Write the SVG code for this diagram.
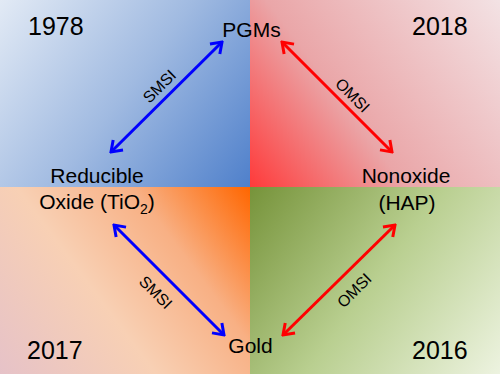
<svg xmlns="http://www.w3.org/2000/svg" width="500" height="374" viewBox="0 0 500 374">
<style>
text{font-family:"Liberation Sans",Arial,sans-serif;fill:#000}
.yr{font-size:25px}
.nd{font-size:21px;text-anchor:middle}
.lb{font-size:16px;text-anchor:middle}
.b{stroke:#0000ff;stroke-width:3;fill:none}
.r{stroke:#ff0000;stroke-width:3;fill:none}
</style>
<defs>
<linearGradient id="gTL" gradientUnits="userSpaceOnUse" x1="0" y1="0" x2="250" y2="187">
<stop offset="0" stop-color="#e2eaf5"/><stop offset="0.5" stop-color="#a0bae1"/><stop offset="1" stop-color="#4f80cb"/>
</linearGradient>
<linearGradient id="gTR" gradientUnits="userSpaceOnUse" x1="250" y1="187" x2="500" y2="0">
<stop offset="0" stop-color="#ff3a3a"/><stop offset="0.4" stop-color="#eaa6a8"/><stop offset="1" stop-color="#f3e2e4"/>
</linearGradient>
<linearGradient id="gBL" gradientUnits="userSpaceOnUse" x1="250" y1="187" x2="0" y2="374">
<stop offset="0" stop-color="#ff6600"/><stop offset="0.3" stop-color="#f8b084"/><stop offset="0.6" stop-color="#f8d0b4"/><stop offset="1" stop-color="#e6c2c8"/>
</linearGradient>
<linearGradient id="gBR" gradientUnits="userSpaceOnUse" x1="250" y1="187" x2="500" y2="374">
<stop offset="0" stop-color="#76933a"/><stop offset="0.5" stop-color="#b9cf90"/><stop offset="1" stop-color="#edf3e0"/>
</linearGradient>
<marker id="mb" markerUnits="userSpaceOnUse" viewBox="-14 -9 16 18" refX="0" refY="0" markerWidth="16" markerHeight="18" orient="auto-start-reverse">
<path d="M-10,-7 L0,0 L-10,7" fill="none" stroke="#0000ff" stroke-width="3"/>
</marker>
<marker id="mr" markerUnits="userSpaceOnUse" viewBox="-14 -9 16 18" refX="0" refY="0" markerWidth="16" markerHeight="18" orient="auto-start-reverse">
<path d="M-10,-7 L0,0 L-10,7" fill="none" stroke="#ff0000" stroke-width="3"/>
</marker>
</defs>
<g id="background">
<rect x="0" y="0" width="250" height="187" fill="url(#gTL)"/>
<rect x="250" y="0" width="250" height="187" fill="url(#gTR)"/>
<rect x="0" y="187" width="250" height="187" fill="url(#gBL)"/>
<rect x="250" y="187" width="250" height="187" fill="url(#gBR)"/>
</g>
<g id="years">
<text class="yr" x="28" y="35">1978</text>
<text class="yr" x="412" y="35">2018</text>
<text class="yr" x="27" y="359">2017</text>
<text class="yr" x="412" y="359">2016</text>
</g>
<g id="connectors">
<line class="b" x1="111" y1="152" x2="222" y2="42" marker-start="url(#mb)" marker-end="url(#mb)"/>
<line class="r" x1="282" y1="42" x2="392" y2="152" marker-start="url(#mr)" marker-end="url(#mr)"/>
<line class="b" x1="114" y1="225" x2="224" y2="335" marker-start="url(#mb)" marker-end="url(#mb)"/>
<line class="r" x1="395" y1="225" x2="283" y2="335" marker-start="url(#mr)" marker-end="url(#mr)"/>
<text class="lb" transform="translate(159,86) rotate(-45)" dy="6">SMSI</text>
<text class="lb" transform="translate(353,95) rotate(45)" dy="6">OMSI</text>
<text class="lb" transform="translate(156,292) rotate(45)" dy="6">SMSI</text>
<text class="lb" transform="translate(354,290) rotate(-45)" dy="6">OMSI</text>
</g>
<g id="node-pgms"><text class="nd" x="251.5" y="37">PGMs</text></g>
<g id="node-reducible"><text class="nd" x="97" y="183">Reducible</text><text class="nd" x="97" y="209">Oxide (TiO<tspan font-size="14" dy="5">2</tspan><tspan dy="-5">)</tspan></text></g>
<g id="node-nonoxide"><text class="nd" x="406" y="183">Nonoxide</text><text class="nd" x="407" y="210">(HAP)</text></g>
<g id="node-gold"><text class="nd" x="250.5" y="353">Gold</text></g>
</svg>
